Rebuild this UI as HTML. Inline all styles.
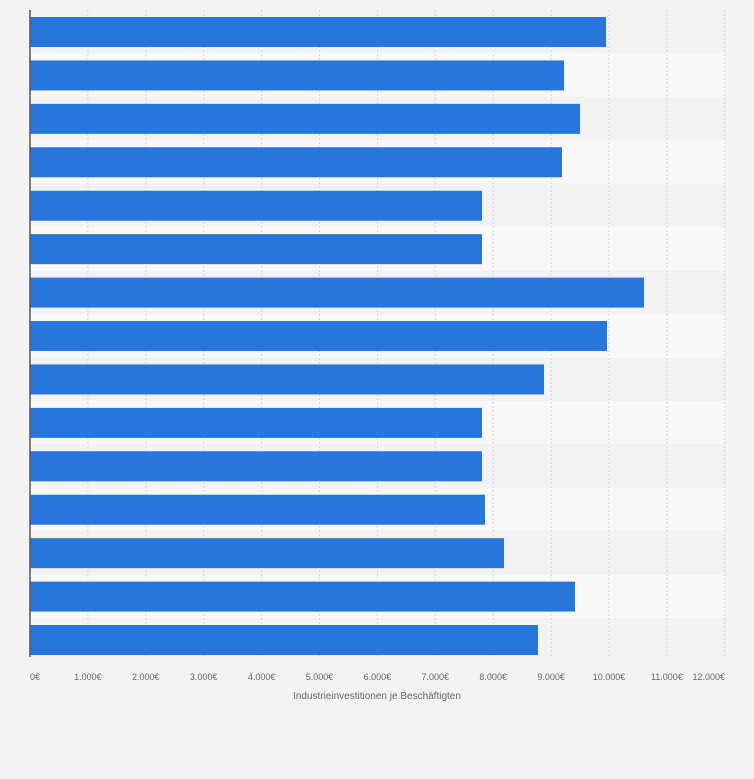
<!DOCTYPE html>
<html><head><style>body{margin:0;background:#f3f3f3}svg{display:block}</style></head><body>
<svg width="754" height="779" xmlns="http://www.w3.org/2000/svg" font-family="Liberation Sans, sans-serif">
<rect width="754" height="779" fill="#f3f3f3"/>
<script>
(function(){
var ns="http://www.w3.org/2000/svg",svg=document.querySelector('svg');
function el(t,a){var e=document.createElementNS(ns,t);for(var k in a)e.setAttribute(k,a[k]);svg.appendChild(e);return e;}
var T0=10,bh=43.43;
for(var i=0;i<15;i++){var y0=T0+i*bh;el('rect',{x:30,y:y0,width:695,height:Math.min(bh,657-y0),fill:i%2?'#f8f8f8':'#f2f2f2'});}
for(var t=1;t<=12;t++){var x=30+t*57.9;el('line',{x1:x,y1:10,x2:x,y2:657,stroke:'#d4d4d4','stroke-dasharray':'2,2','stroke-width':1});}
var ends=[606,564,580,562,482,482,644,607,544,482,482,485,504,575,538];
ends.forEach(function(e,i){el('rect',{x:30,y:T0+i*bh+7,width:e-30,height:30,fill:'#2776dc'});});
el('line',{x1:30,y1:10,x2:30,y2:657,stroke:'#555','stroke-width':1.5});
var labs=['0€','1.000€','2.000€','3.000€','4.000€','5.000€','6.000€','7.000€','8.000€','9.000€','10.000€','11.000€','12.000€'];
labs.forEach(function(l,t){var x=30+t*57.9;var tx=el('text',{x:t==0?30:(t==12?725:x),y:680,'font-size':9,fill:'#666','text-anchor':t==0?'start':(t==12?'end':'middle')});tx.textContent=l;});
var at=el('text',{x:377,y:699,'font-size':10,fill:'#666','text-anchor':'middle'});at.textContent='Industrieinvestitionen je Beschäftigten';
})();
</script>
</svg>
</body></html>
